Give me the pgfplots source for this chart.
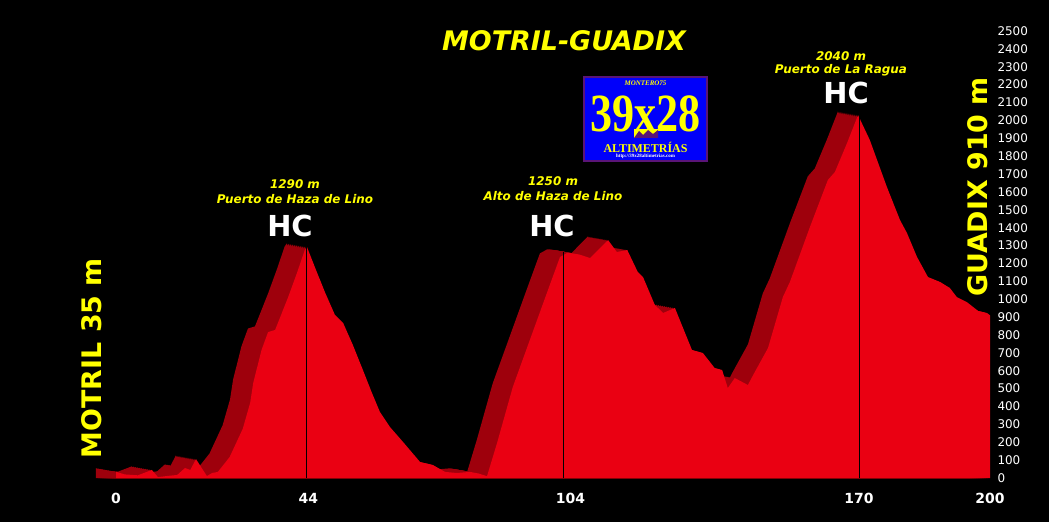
\documentclass[border=0pt]{standalone}
\usepackage{pgfplots}
\pgfplotsset{compat=1.18}
\usepackage{pgfplotstable}
\usepackage{fontspec}
\setmainfont{DejaVu Sans}
\newfontfamily\logofont{Liberation Serif}

\definecolor{relieve}{RGB}{234,0,18}
\definecolor{sombra}{RGB}{158,0,12}
\definecolor{amarillo}{RGB}{255,255,0}
\definecolor{logoazul}{RGB}{0,0,250}
\definecolor{logoborde}{RGB}{90,20,120}

% perfil: km, altitud (m)
\pgfplotstableread{
km m
0 35
2 20
5 15
8.2 45
9.6 5
12 12
14 17
15.8 56
17 45
18.3 106
20.8 11
22 28
23.3 34
26 117
29 275
30.7 420
31.4 531
33.3 716
34.8 816
36.4 828
37.5 895
39.4 1012
41.4 1146
43.2 1275
43.7 1292
45.5 1180
47.8 1040
50.1 912
52 866
54.2 744
56.5 604
58.5 480
60.4 369
62.7 285
65.7 201
69.6 89
72.5 73
75.3 34
78 28
81 34
83 25
84.9 10
87.2 196
90.8 509
94.7 772
98.6 1035
101.6 1236
103.2 1258
104 1258
106 1250
108.5 1230
112.6 1331
114.6 1264
117 1275
119.4 1152
120.6 1124
123.3 968
125.2 923
127.9 951
131.8 716
134.3 699
137 615
138.7 604
140 503
141.6 559
144.6 520
145.8 576
149.2 727
152.6 1012
154.2 1096
158.8 1404
162.9 1667
164.5 1711
167.3 1874
169.8 2030
172.5 1890
176.4 1628
179.4 1443
181 1370
183.3 1236
185.8 1124
188.6 1096
190.8 1063
192.4 1012
194.7 984
197.3 934
199.3 923
200 910
}\perfil

\begin{document}
\begin{tikzpicture}
\fill[black] (-116bp,-44bp) rectangle (933bp,478bp);
\begin{axis}[
  scale only axis, width=874bp, height=447bp,
  xmin=0, xmax=200, ymin=0, ymax=2500,
  clip=false,
  axis line style={draw=none},
  major tick length=0pt,
  xtick={0,44,104,170,200},
  ytick={0,100,...,2500},
  yticklabel pos=right,
  /pgf/number format/assume math mode=true,
  /pgf/number format/1000 sep={},
  xticklabel style={white, font=\bfseries\fontsize{14}{14}\selectfont, anchor=center, yshift=-20bp},
  yticklabel style={white, font=\fontsize{12}{12}\selectfont, anchor=west, xshift=4bp},
]
\pgfplotsinvokeforeach{1,...,10}{
  \addplot[draw=none, fill=sombra] table[x expr=\thisrow{km}-0.46*#1, y expr=\thisrow{m}+2*#1] {\perfil} \closedcycle;
}
\addplot[draw=none, fill=relieve] table[x=km, y=m] {\perfil} \closedcycle;
\addplot[black, line width=0.8pt] coordinates {(43.6,0) (43.6,1290)};
\addplot[black, line width=0.8pt] coordinates {(102.3,0) (102.3,1262)};
\addplot[black, line width=0.8pt] coordinates {(170,0) (170,2030)};
\end{axis}

% titulo y etiquetas
\node[amarillo, font=\bfseries\itshape\fontsize{27}{27}\selectfont] at (448bp,437bp) {MOTRIL-GUADIX};
\node[amarillo, font=\bfseries\fontsize{27}{27}\selectfont, rotate=90] at (-24bp,120bp) {MOTRIL 35 m};
\node[amarillo, font=\bfseries\fontsize{27}{27}\selectfont, rotate=90] at (862bp,291bp) {GUADIX 910 m};

\begin{scope}[every node/.style={amarillo, font=\bfseries\itshape\fontsize{12}{12}\selectfont}]
\node at (179bp,294bp) {1290 m};
\node at (179bp,279bp) {Puerto de Haza de Lino};
\node at (437bp,297bp) {1250 m};
\node at (437bp,282bp) {Alto de Haza de Lino};
\node at (725bp,422bp) {2040 m};
\node at (725bp,408bp) {Puerto de La Ragua};
\end{scope}
\begin{scope}[every node/.style={white, font=\bfseries\fontsize{29}{29}\selectfont}]
\node at (174bp,252bp) {HC};
\node at (436bp,252bp) {HC};
\node at (730bp,385bp) {HC};
\end{scope}

% logo
\draw[fill=logoazul, draw=logoborde, line width=1.5bp] (468bp,317bp) rectangle (591bp,401bp);
\node[amarillo, font=\logofont\bfseries\itshape\fontsize{7}{7}\selectfont] at (529.5bp,395bp) {MONTERO75};
\node[amarillo, font=\logofont\bfseries\fontsize{54}{54}\selectfont, xscale=0.82, anchor=base, inner sep=0pt] at (529.5bp,346bp) {39x28};
\fill[amarillo] (518bp,340bp) rectangle (542bp,349bp);
\fill[logoborde] (518bp,340bp) -- (523bp,347bp) -- (527bp,343bp) -- (532bp,348bp) -- (537bp,344bp) -- (542bp,348bp) -- (542bp,340bp) -- cycle;
\node[amarillo, font=\logofont\bfseries\fontsize{12}{12}\selectfont, inner sep=0pt] at (529.5bp,331bp) {ALTIMETRÍAS};
\node[white, font=\logofont\bfseries\fontsize{5}{5}\selectfont, inner sep=0pt] at (529.5bp,322bp) {http://39x28altimetrias.com};
\end{tikzpicture}
\end{document}
